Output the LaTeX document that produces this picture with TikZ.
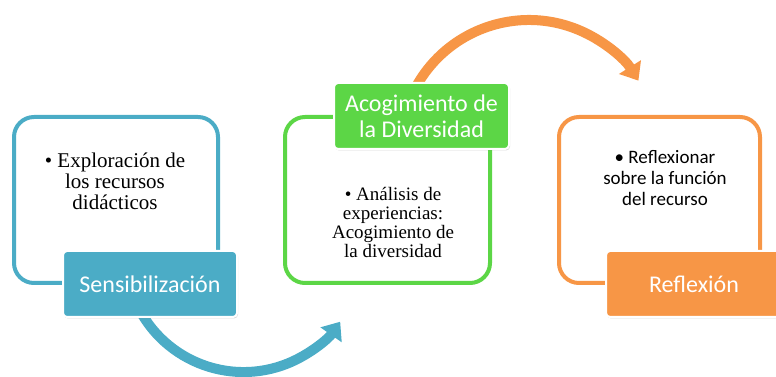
\documentclass[tikz,border=0pt]{standalone}
\usepackage{fontspec}
\setmainfont{Liberation Serif}
\newfontfamily\carlito{Carlito}
\usetikzlibrary{arrows.meta,positioning,shadows}
\definecolor{stepblue}{RGB}{75,172,198}
\definecolor{stepgreen}{RGB}{92,214,70}
\definecolor{steporange}{RGB}{247,150,70}
\tikzset{panel/.style={draw=#1, line width=4pt, fill=white, rounded corners=20pt,
    minimum width=204pt, minimum height=166pt}}
\tikzset{tag/.style={fill=#1, draw=white, line width=2pt, rounded corners=4pt,
    minimum width=174pt, minimum height=66pt, text=white, align=center,
    font=\carlito\fontsize{24}{26}\selectfont,
    drop shadow={shadow xshift=1pt, shadow yshift=-1.5pt, opacity=.3}}}
\tikzset{bodytext/.style={align=center, font=\fontsize{21}{21}\selectfont}}
\tikzset{flow/.style={draw=#1, line width=10pt, -{Triangle[width=25pt,length=16pt]}}}

\begin{document}
\begin{tikzpicture}[x=1pt, y=1pt]
    \clip (0,0) rectangle (776,377);
    \coordinate (blueStart) at (136.6,73.1);
    \coordinate (orangeStart) at (412.1,282.5);

    % curved arrows behind the boxes
    \draw[flow=stepblue] (blueStart) arc[start angle=205, end angle=325, radius=118];
    \draw[flow=steporange] (orangeStart) arc[start angle=155, end angle=32, radius=129];

    \node[panel=stepblue] (sensBox) at (116,177) {};
    \node[panel=stepgreen, minimum width=205pt] (acogBox) at (387.5,177) {};
    \node[panel=steporange, minimum width=201pt] (reflBox) at (659.5,177) {};

    \node[bodytext] (sensText) at (115,196) {• Exploración de\\los recursos\\didácticos};
    \node[bodytext, font=\fontsize{19}{19}\selectfont] (acogText) at (393,155)
        {• Análisis de\\experiencias:\\Acogimiento de\\la diversidad};
    \node[bodytext, font=\carlito\fontsize{19}{21}\selectfont] (reflText) at (665,199)
        {• Reflexionar\\sobre la función\\del recurso};

    \node[tag=stepblue] (sensTag) at (150,93) {Sensibilización};
    \node[tag=stepgreen, minimum width=175pt] (acogTag) at (421.5,261)
        {Acogimiento de\\la Diversidad};
    \node[tag=steporange, minimum width=176pt] (reflTag) at (694,93) {Reflexión};
\end{tikzpicture}
\end{document}
